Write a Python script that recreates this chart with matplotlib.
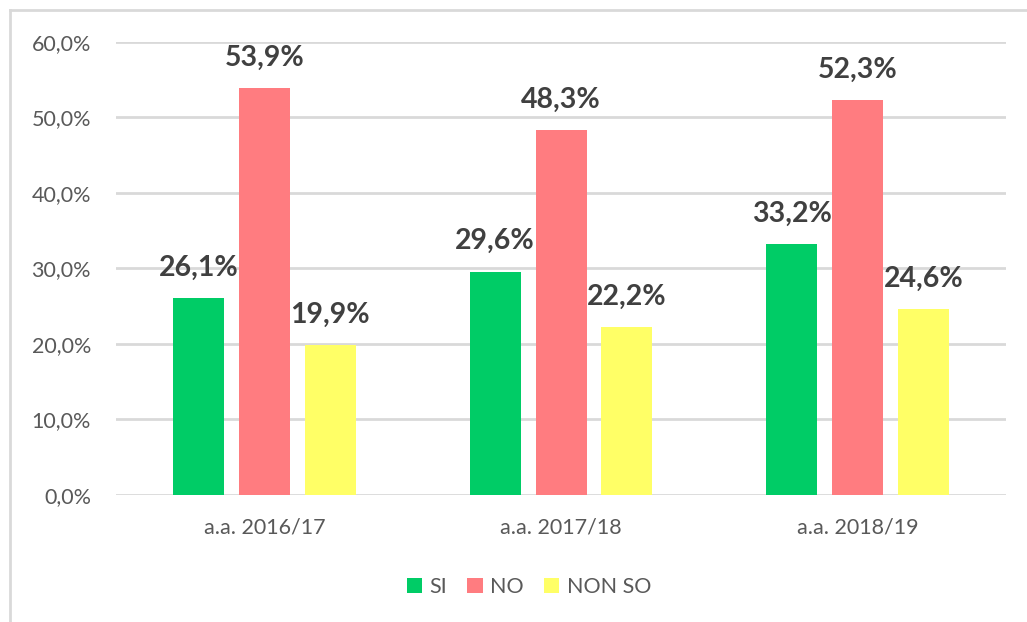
import matplotlib
matplotlib.use("Agg")
import matplotlib.pyplot as plt
import numpy as np
from matplotlib.lines import Line2D

categories = ["a.a. 2016/17", "a.a. 2017/18", "a.a. 2018/19"]
series_names = ["SI", "NO", "NON SO"]
si = [26.1, 29.6, 33.2]
no = [53.9, 48.3, 52.3]
non_so = [19.9, 22.2, 24.6]
colors = ["#00CC66", "#FF7C80", "#FFFF66"]
yticks = [0, 10, 20, 30, 40, 50, 60]

plt.rcParams["font.family"] = ["Lato", "DejaVu Sans"]

fig = plt.figure(figsize=(10.27, 6.22), dpi=100)
ax = fig.add_axes([0.113, 0.2042, 0.8666, 0.7283])

x = np.arange(len(categories))
width = 0.172
step = 0.222
for i, (name, vals, col) in enumerate(zip(series_names, [si, no, non_so], colors)):
    pos = x + (i - 1) * step
    ax.bar(pos, vals, width, color=col, label=name, zorder=3)
    for p, v in zip(pos, vals):
        ax.text(p, v + 2.3, f"{v:.1f}%".replace(".", ","), ha="center", va="bottom",
                fontsize=20.5, fontweight="bold", color="#404040", zorder=4)

ax.set_xlim(-0.5, 2.5)
ax.set_ylim(0, 60)
ax.set_yticks(yticks)
ax.set_yticklabels([f"{t:.1f}%".replace(".", ",") for t in yticks])
ax.set_xticks(x)
ax.set_xticklabels(categories)
ax.tick_params(axis="y", length=0, pad=18, labelsize=15.5, labelcolor="#595959")
ax.tick_params(axis="x", length=0, pad=16, labelsize=15.5, labelcolor="#595959")
ax.grid(axis="y", color="#D9D9D9", linewidth=2, zorder=0)
for s in ax.spines.values():
    s.set_visible(False)

leg = fig.legend(loc="center", bbox_to_anchor=(0.515, 0.056), ncol=3, frameon=False,
                 fontsize=15.5, handlelength=0.7, handleheight=0.7, handletextpad=0.35,
                 columnspacing=0.95, labelcolor="#595959")

# outer chart frame
fig.add_artist(Line2D([10 / 1027, 10 / 1027], [0, 1 - 10 / 622], color="#D9D9D9",
                      linewidth=2, transform=fig.transFigure))
fig.add_artist(Line2D([10 / 1027, 1], [1 - 10 / 622, 1 - 10 / 622], color="#D9D9D9",
                      linewidth=2, transform=fig.transFigure))

fig.savefig("out.png", dpi=100)
